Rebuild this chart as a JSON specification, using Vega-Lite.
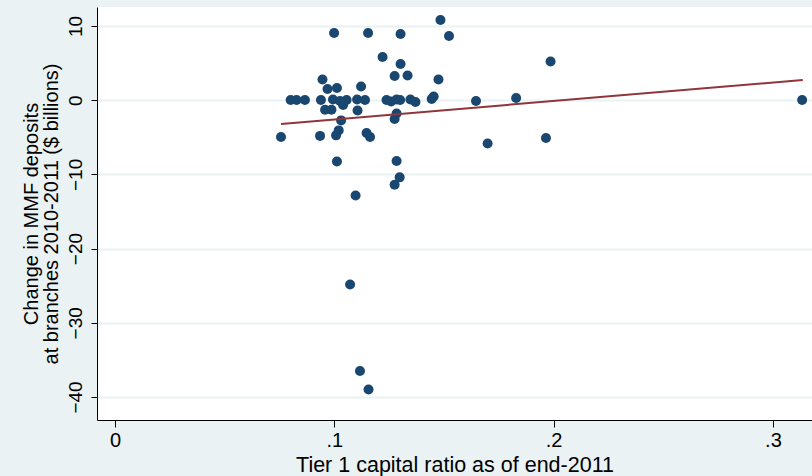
{
  "$schema": "https://vega.github.io/schema/vega-lite/v6.json",
  "autosize": "none",
  "width": 715,
  "height": 413,
  "padding": {"left": 97, "top": 7, "right": 0, "bottom": 56},
  "background": "#EAF2F3",
  "config": {
    "view": {"fill": "white", "stroke": null},
    "font": "Liberation Sans",
    "axis": {"labelFont": "Liberation Sans", "titleFont": "Liberation Sans", "titleFontWeight": "normal", "labelColor": "black", "titleColor": "black", "domainColor": "black", "tickColor": "black"}
  },
  "datasets": {
    "pts": [
      {"t1": 0.0757, "dmmf": -4.96},
      {"t1": 0.0801, "dmmf": 0.03},
      {"t1": 0.0828, "dmmf": 0.03},
      {"t1": 0.0866, "dmmf": 0.03},
      {"t1": 0.0939, "dmmf": 0.03},
      {"t1": 0.0946, "dmmf": 2.78},
      {"t1": 0.0969, "dmmf": 1.5},
      {"t1": 0.1012, "dmmf": 1.64},
      {"t1": 0.0999, "dmmf": 9.06},
      {"t1": 0.0994, "dmmf": 0.09},
      {"t1": 0.1026, "dmmf": -0.11},
      {"t1": 0.1056, "dmmf": 0.03},
      {"t1": 0.104, "dmmf": -0.65},
      {"t1": 0.0958, "dmmf": -1.29},
      {"t1": 0.0987, "dmmf": -1.29},
      {"t1": 0.1031, "dmmf": -2.72},
      {"t1": 0.102, "dmmf": -4.07},
      {"t1": 0.1008, "dmmf": -4.74},
      {"t1": 0.0935, "dmmf": -4.81},
      {"t1": 0.1012, "dmmf": -8.25},
      {"t1": 0.1097, "dmmf": -12.85},
      {"t1": 0.1072, "dmmf": -24.84},
      {"t1": 0.1117, "dmmf": -36.5},
      {"t1": 0.1156, "dmmf": -39.0},
      {"t1": 0.1104, "dmmf": 0.09},
      {"t1": 0.114, "dmmf": 0.03},
      {"t1": 0.1106, "dmmf": -1.38},
      {"t1": 0.1122, "dmmf": 1.85},
      {"t1": 0.1154, "dmmf": 9.06},
      {"t1": 0.1147, "dmmf": -4.43},
      {"t1": 0.1163, "dmmf": -4.96},
      {"t1": 0.122, "dmmf": 5.82},
      {"t1": 0.1238, "dmmf": 0.03},
      {"t1": 0.1259, "dmmf": -0.18},
      {"t1": 0.1284, "dmmf": 0.09},
      {"t1": 0.13, "dmmf": 0.03},
      {"t1": 0.1284, "dmmf": -1.79},
      {"t1": 0.1275, "dmmf": -2.53},
      {"t1": 0.1284, "dmmf": -8.2},
      {"t1": 0.1298, "dmmf": -10.4},
      {"t1": 0.1275, "dmmf": -11.4},
      {"t1": 0.1275, "dmmf": 3.26},
      {"t1": 0.1334, "dmmf": 3.32},
      {"t1": 0.1302, "dmmf": 4.87},
      {"t1": 0.1302, "dmmf": 8.92},
      {"t1": 0.1347, "dmmf": 0.09},
      {"t1": 0.137, "dmmf": -0.24},
      {"t1": 0.1444, "dmmf": 0.16},
      {"t1": 0.1453, "dmmf": 0.49},
      {"t1": 0.1475, "dmmf": 2.78},
      {"t1": 0.1484, "dmmf": 10.81},
      {"t1": 0.1523, "dmmf": 8.66},
      {"t1": 0.1646, "dmmf": -0.11},
      {"t1": 0.1699, "dmmf": -5.84},
      {"t1": 0.1829, "dmmf": 0.3},
      {"t1": 0.1965, "dmmf": -5.1},
      {"t1": 0.1986, "dmmf": 5.22},
      {"t1": 0.3133, "dmmf": 0.03}
    ],
    "fit": [
      {"t1": 0.0757, "dmmf": -3.2},
      {"t1": 0.3136, "dmmf": 2.72}
    ]
  },
  "layer": [
    {
      "data": {"name": "pts"},
      "mark": {"type": "point", "filled": true, "shape": "circle", "size": 100, "color": "#1A476F", "opacity": 1},
      "encoding": {
        "x": {
          "field": "t1", "type": "quantitative",
          "scale": {"domain": [-0.0082, 0.3178], "nice": false, "zero": false},
          "axis": {
            "values": [0, 0.1, 0.2, 0.3],
            "labelExpr": "datum.value === 0 ? '0' : '.' + round(datum.value * 10)",
            "grid": false,
            "labelFontSize": 20,
            "labelPadding": 3,
            "tickSize": 7,
            "title": "Tier 1 capital ratio as of end-2011",
            "titleFontSize": 21.5,
            "titlePadding": 4,
            "domainWidth": 1
          }
        },
        "y": {
          "field": "dmmf", "type": "quantitative",
          "scale": {"domain": [-43.1, 12.56], "nice": false, "zero": false},
          "axis": {
            "values": [-40, -30, -20, -10, 0, 10],
            "grid": true,
            "gridColor": "#EAF2F3",
            "gridWidth": 2,
            "labelAngle": -90,
            "labelAlign": "center",
            "labelBaseline": "bottom",
            "labelFontSize": 19,
            "labelPadding": 6,
            "tickSize": 6,
            "title": ["Change in MMF deposits", "at branches 2010-2011 ($ billions)"],
            "titleFontSize": 20,
            "titleLineHeight": 20,
            "titlePadding": 5,
            "domainWidth": 1
          }
        }
      }
    },
    {
      "data": {"name": "fit"},
      "mark": {"type": "line", "color": "#90353B", "strokeWidth": 2},
      "encoding": {
        "x": {"field": "t1", "type": "quantitative"},
        "y": {"field": "dmmf", "type": "quantitative"}
      }
    }
  ]
}
